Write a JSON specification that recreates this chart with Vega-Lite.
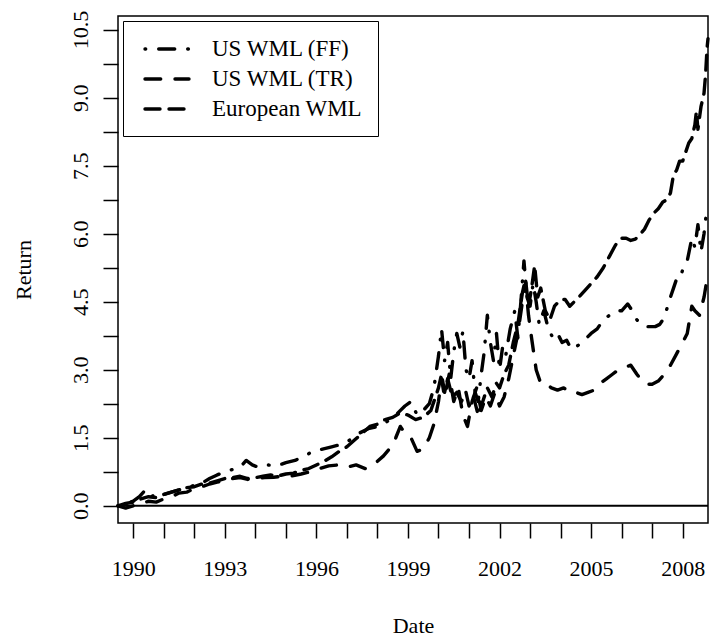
{
  "$schema": "https://vega.github.io/schema/vega-lite/v6.json",
  "width": 590,
  "height": 507,
  "autosize": "none",
  "padding": {"left": 118, "top": 16, "right": 2, "bottom": 120},
  "config": {
    "view": {"stroke": "black", "strokeWidth": 1.5},
    "font": "Liberation Serif",
    "axis": {"labelOverlap": false, "labelFlush": false, "grid": false, "domain": false}
  },
  "layer": [
    {
      "data": {"values": [{"v": 0}]},
      "mark": {"type": "rule", "color": "black", "strokeWidth": 2},
      "encoding": {
        "y": {
          "field": "v", "type": "quantitative",
          "scale": {"domain": [-0.38, 10.8], "nice": false, "zero": false},
          "axis": {
            "title": "Return",
            "values": [0,0.75,1.5,2.25,3,3.75,4.5,5.25,6,6.75,7.5,8.25,9,9.75,10.5],
            "labelExpr": "datum.value % 1.5 == 0 ? format(datum.value, '.1f') : ''",
            "labelAngle": -90, "labelOverlap": false,
            "tickSize": 15, "tickWidth": 1.5, "tickColor": "black",
            "labelFont": "Liberation Serif", "labelFontSize": 22, "labelColor": "black", "labelPadding": 11,
            "titleFont": "Liberation Serif", "titleFontSize": 22, "titleFontWeight": "normal", "titleColor": "black", "titlePadding": 34
          }
        }
      }
    },
    {
      "data": {"values": [
        {"s":"US WML (FF)","d":1989.5,"v":0.0},{"s":"US WML (FF)","d":1989.75,"v":0.05},{"s":"US WML (FF)","d":1990.0,"v":0.1},{"s":"US WML (FF)","d":1990.2,"v":0.2},{"s":"US WML (FF)","d":1990.4,"v":0.35},{"s":"US WML (FF)","d":1990.6,"v":0.2},{"s":"US WML (FF)","d":1990.8,"v":0.3},{"s":"US WML (FF)","d":1991.0,"v":0.25},{"s":"US WML (FF)","d":1991.25,"v":0.3},{"s":"US WML (FF)","d":1991.5,"v":0.35},{"s":"US WML (FF)","d":1991.75,"v":0.4},{"s":"US WML (FF)","d":1992.0,"v":0.45},{"s":"US WML (FF)","d":1992.25,"v":0.5},{"s":"US WML (FF)","d":1992.5,"v":0.6},{"s":"US WML (FF)","d":1992.75,"v":0.68},{"s":"US WML (FF)","d":1993.0,"v":0.75},{"s":"US WML (FF)","d":1993.25,"v":0.8},{"s":"US WML (FF)","d":1993.5,"v":0.85},{"s":"US WML (FF)","d":1993.7,"v":1.0},{"s":"US WML (FF)","d":1993.9,"v":0.9},{"s":"US WML (FF)","d":1994.1,"v":0.85},{"s":"US WML (FF)","d":1994.4,"v":0.9},{"s":"US WML (FF)","d":1994.7,"v":0.88},{"s":"US WML (FF)","d":1995.0,"v":0.95},{"s":"US WML (FF)","d":1995.3,"v":1.0},{"s":"US WML (FF)","d":1995.6,"v":1.1},{"s":"US WML (FF)","d":1995.9,"v":1.2},{"s":"US WML (FF)","d":1996.2,"v":1.25},{"s":"US WML (FF)","d":1996.5,"v":1.3},{"s":"US WML (FF)","d":1996.8,"v":1.35},{"s":"US WML (FF)","d":1997.1,"v":1.45},{"s":"US WML (FF)","d":1997.4,"v":1.6},{"s":"US WML (FF)","d":1997.7,"v":1.7},{"s":"US WML (FF)","d":1998.0,"v":1.75},{"s":"US WML (FF)","d":1998.3,"v":1.85},{"s":"US WML (FF)","d":1998.6,"v":2.0},{"s":"US WML (FF)","d":1998.9,"v":2.2},{"s":"US WML (FF)","d":1999.1,"v":2.3},{"s":"US WML (FF)","d":1999.3,"v":2.0},{"s":"US WML (FF)","d":1999.5,"v":2.1},{"s":"US WML (FF)","d":1999.7,"v":2.25},{"s":"US WML (FF)","d":1999.85,"v":2.6},{"s":"US WML (FF)","d":2000.0,"v":3.3},{"s":"US WML (FF)","d":2000.1,"v":3.9},{"s":"US WML (FF)","d":2000.2,"v":3.2},{"s":"US WML (FF)","d":2000.3,"v":3.6},{"s":"US WML (FF)","d":2000.4,"v":2.8},{"s":"US WML (FF)","d":2000.5,"v":3.4},{"s":"US WML (FF)","d":2000.6,"v":3.8},{"s":"US WML (FF)","d":2000.7,"v":3.5},{"s":"US WML (FF)","d":2000.8,"v":3.85},{"s":"US WML (FF)","d":2000.9,"v":3.0},{"s":"US WML (FF)","d":2001.0,"v":2.8},{"s":"US WML (FF)","d":2001.1,"v":3.2},{"s":"US WML (FF)","d":2001.2,"v":2.5},{"s":"US WML (FF)","d":2001.3,"v":2.3},{"s":"US WML (FF)","d":2001.4,"v":2.9},{"s":"US WML (FF)","d":2001.5,"v":3.4},{"s":"US WML (FF)","d":2001.6,"v":4.2},{"s":"US WML (FF)","d":2001.7,"v":3.6},{"s":"US WML (FF)","d":2001.8,"v":3.2},{"s":"US WML (FF)","d":2001.9,"v":3.8},{"s":"US WML (FF)","d":2002.0,"v":3.0},{"s":"US WML (FF)","d":2002.1,"v":3.5},{"s":"US WML (FF)","d":2002.2,"v":3.3},{"s":"US WML (FF)","d":2002.35,"v":3.9},{"s":"US WML (FF)","d":2002.5,"v":4.3},{"s":"US WML (FF)","d":2002.6,"v":3.7},{"s":"US WML (FF)","d":2002.7,"v":4.5},{"s":"US WML (FF)","d":2002.8,"v":5.4},{"s":"US WML (FF)","d":2002.9,"v":4.6},{"s":"US WML (FF)","d":2003.0,"v":4.4},{"s":"US WML (FF)","d":2003.1,"v":4.9},{"s":"US WML (FF)","d":2003.2,"v":4.5},{"s":"US WML (FF)","d":2003.3,"v":4.0},{"s":"US WML (FF)","d":2003.45,"v":4.3},{"s":"US WML (FF)","d":2003.6,"v":3.9},{"s":"US WML (FF)","d":2003.75,"v":3.7},{"s":"US WML (FF)","d":2003.9,"v":3.8},{"s":"US WML (FF)","d":2004.05,"v":3.6},{"s":"US WML (FF)","d":2004.2,"v":3.65},{"s":"US WML (FF)","d":2004.35,"v":3.45},{"s":"US WML (FF)","d":2004.5,"v":3.5},{"s":"US WML (FF)","d":2004.7,"v":3.6},{"s":"US WML (FF)","d":2004.85,"v":3.7},{"s":"US WML (FF)","d":2005.0,"v":3.8},{"s":"US WML (FF)","d":2005.2,"v":3.9},{"s":"US WML (FF)","d":2005.4,"v":4.1},{"s":"US WML (FF)","d":2005.6,"v":4.2},{"s":"US WML (FF)","d":2005.8,"v":4.3},{"s":"US WML (FF)","d":2006.0,"v":4.3},{"s":"US WML (FF)","d":2006.2,"v":4.45},{"s":"US WML (FF)","d":2006.35,"v":4.3},{"s":"US WML (FF)","d":2006.5,"v":4.1},{"s":"US WML (FF)","d":2006.65,"v":4.0},{"s":"US WML (FF)","d":2006.8,"v":3.95},{"s":"US WML (FF)","d":2006.95,"v":3.95},{"s":"US WML (FF)","d":2007.1,"v":3.95},{"s":"US WML (FF)","d":2007.25,"v":4.0},{"s":"US WML (FF)","d":2007.4,"v":4.15},{"s":"US WML (FF)","d":2007.55,"v":4.5},{"s":"US WML (FF)","d":2007.7,"v":4.8},{"s":"US WML (FF)","d":2007.8,"v":5.0},{"s":"US WML (FF)","d":2007.9,"v":5.0},{"s":"US WML (FF)","d":2008.0,"v":5.2},{"s":"US WML (FF)","d":2008.15,"v":5.4},{"s":"US WML (FF)","d":2008.3,"v":5.9},{"s":"US WML (FF)","d":2008.4,"v":5.7},{"s":"US WML (FF)","d":2008.5,"v":6.2},{"s":"US WML (FF)","d":2008.6,"v":5.6},{"s":"US WML (FF)","d":2008.7,"v":6.0},{"s":"US WML (FF)","d":2008.8,"v":6.6},
        {"s":"US WML (TR)","d":1989.5,"v":0.0},{"s":"US WML (TR)","d":1989.75,"v":-0.05},{"s":"US WML (TR)","d":1990.0,"v":0.0},{"s":"US WML (TR)","d":1990.25,"v":0.05},{"s":"US WML (TR)","d":1990.5,"v":0.1},{"s":"US WML (TR)","d":1990.75,"v":0.08},{"s":"US WML (TR)","d":1991.0,"v":0.15},{"s":"US WML (TR)","d":1991.25,"v":0.2},{"s":"US WML (TR)","d":1991.5,"v":0.28},{"s":"US WML (TR)","d":1991.75,"v":0.3},{"s":"US WML (TR)","d":1992.0,"v":0.38},{"s":"US WML (TR)","d":1992.25,"v":0.42},{"s":"US WML (TR)","d":1992.5,"v":0.48},{"s":"US WML (TR)","d":1992.75,"v":0.52},{"s":"US WML (TR)","d":1993.0,"v":0.55},{"s":"US WML (TR)","d":1993.25,"v":0.6},{"s":"US WML (TR)","d":1993.5,"v":0.62},{"s":"US WML (TR)","d":1993.75,"v":0.58},{"s":"US WML (TR)","d":1994.0,"v":0.6},{"s":"US WML (TR)","d":1994.3,"v":0.62},{"s":"US WML (TR)","d":1994.6,"v":0.63},{"s":"US WML (TR)","d":1994.9,"v":0.65},{"s":"US WML (TR)","d":1995.2,"v":0.66},{"s":"US WML (TR)","d":1995.5,"v":0.7},{"s":"US WML (TR)","d":1995.8,"v":0.75},{"s":"US WML (TR)","d":1996.1,"v":0.82},{"s":"US WML (TR)","d":1996.4,"v":0.88},{"s":"US WML (TR)","d":1996.7,"v":0.9},{"s":"US WML (TR)","d":1997.0,"v":0.85},{"s":"US WML (TR)","d":1997.3,"v":0.9},{"s":"US WML (TR)","d":1997.6,"v":0.82},{"s":"US WML (TR)","d":1997.9,"v":0.92},{"s":"US WML (TR)","d":1998.2,"v":1.1},{"s":"US WML (TR)","d":1998.45,"v":1.3},{"s":"US WML (TR)","d":1998.6,"v":1.5},{"s":"US WML (TR)","d":1998.75,"v":1.75},{"s":"US WML (TR)","d":1998.9,"v":1.6},{"s":"US WML (TR)","d":1999.1,"v":1.5},{"s":"US WML (TR)","d":1999.3,"v":1.2},{"s":"US WML (TR)","d":1999.5,"v":1.25},{"s":"US WML (TR)","d":1999.7,"v":1.5},{"s":"US WML (TR)","d":1999.85,"v":1.8},{"s":"US WML (TR)","d":2000.0,"v":2.3},{"s":"US WML (TR)","d":2000.1,"v":2.8},{"s":"US WML (TR)","d":2000.2,"v":2.4},{"s":"US WML (TR)","d":2000.35,"v":2.9},{"s":"US WML (TR)","d":2000.5,"v":2.3},{"s":"US WML (TR)","d":2000.65,"v":2.6},{"s":"US WML (TR)","d":2000.8,"v":2.0},{"s":"US WML (TR)","d":2000.95,"v":1.75},{"s":"US WML (TR)","d":2001.1,"v":2.3},{"s":"US WML (TR)","d":2001.25,"v":2.6},{"s":"US WML (TR)","d":2001.4,"v":2.1},{"s":"US WML (TR)","d":2001.55,"v":2.4},{"s":"US WML (TR)","d":2001.7,"v":2.2},{"s":"US WML (TR)","d":2001.85,"v":2.5},{"s":"US WML (TR)","d":2002.0,"v":2.2},{"s":"US WML (TR)","d":2002.15,"v":2.4},{"s":"US WML (TR)","d":2002.3,"v":2.8},{"s":"US WML (TR)","d":2002.45,"v":3.3},{"s":"US WML (TR)","d":2002.6,"v":3.8},{"s":"US WML (TR)","d":2002.75,"v":4.5},{"s":"US WML (TR)","d":2002.85,"v":4.9},{"s":"US WML (TR)","d":2002.95,"v":4.2},{"s":"US WML (TR)","d":2003.05,"v":3.7},{"s":"US WML (TR)","d":2003.2,"v":3.0},{"s":"US WML (TR)","d":2003.35,"v":2.7},{"s":"US WML (TR)","d":2003.5,"v":2.7},{"s":"US WML (TR)","d":2003.7,"v":2.6},{"s":"US WML (TR)","d":2003.9,"v":2.55},{"s":"US WML (TR)","d":2004.1,"v":2.6},{"s":"US WML (TR)","d":2004.3,"v":2.5},{"s":"US WML (TR)","d":2004.5,"v":2.5},{"s":"US WML (TR)","d":2004.7,"v":2.45},{"s":"US WML (TR)","d":2004.9,"v":2.5},{"s":"US WML (TR)","d":2005.1,"v":2.55},{"s":"US WML (TR)","d":2005.3,"v":2.7},{"s":"US WML (TR)","d":2005.5,"v":2.8},{"s":"US WML (TR)","d":2005.7,"v":2.9},{"s":"US WML (TR)","d":2005.9,"v":3.0},{"s":"US WML (TR)","d":2006.1,"v":3.05},{"s":"US WML (TR)","d":2006.3,"v":3.1},{"s":"US WML (TR)","d":2006.5,"v":2.9},{"s":"US WML (TR)","d":2006.7,"v":2.72},{"s":"US WML (TR)","d":2006.85,"v":2.68},{"s":"US WML (TR)","d":2007.0,"v":2.68},{"s":"US WML (TR)","d":2007.2,"v":2.75},{"s":"US WML (TR)","d":2007.4,"v":2.9},{"s":"US WML (TR)","d":2007.6,"v":3.1},{"s":"US WML (TR)","d":2007.8,"v":3.35},{"s":"US WML (TR)","d":2008.0,"v":3.6},{"s":"US WML (TR)","d":2008.15,"v":3.8},{"s":"US WML (TR)","d":2008.3,"v":4.4},{"s":"US WML (TR)","d":2008.4,"v":4.3},{"s":"US WML (TR)","d":2008.55,"v":4.2},{"s":"US WML (TR)","d":2008.7,"v":4.6},{"s":"US WML (TR)","d":2008.8,"v":5.0},
        {"s":"European WML","d":1989.5,"v":0.0},{"s":"European WML","d":1989.75,"v":0.05},{"s":"European WML","d":1990.0,"v":0.08},{"s":"European WML","d":1990.25,"v":0.15},{"s":"European WML","d":1990.5,"v":0.2},{"s":"European WML","d":1990.75,"v":0.18},{"s":"European WML","d":1991.0,"v":0.25},{"s":"European WML","d":1991.25,"v":0.3},{"s":"European WML","d":1991.5,"v":0.35},{"s":"European WML","d":1991.75,"v":0.4},{"s":"European WML","d":1992.0,"v":0.42},{"s":"European WML","d":1992.25,"v":0.48},{"s":"European WML","d":1992.5,"v":0.5},{"s":"European WML","d":1992.75,"v":0.55},{"s":"European WML","d":1993.0,"v":0.6},{"s":"European WML","d":1993.25,"v":0.62},{"s":"European WML","d":1993.5,"v":0.65},{"s":"European WML","d":1993.75,"v":0.6},{"s":"European WML","d":1994.0,"v":0.62},{"s":"European WML","d":1994.25,"v":0.65},{"s":"European WML","d":1994.5,"v":0.68},{"s":"European WML","d":1994.75,"v":0.66},{"s":"European WML","d":1995.0,"v":0.7},{"s":"European WML","d":1995.25,"v":0.72},{"s":"European WML","d":1995.5,"v":0.78},{"s":"European WML","d":1995.75,"v":0.82},{"s":"European WML","d":1996.0,"v":0.9},{"s":"European WML","d":1996.25,"v":0.98},{"s":"European WML","d":1996.5,"v":1.08},{"s":"European WML","d":1996.75,"v":1.2},{"s":"European WML","d":1997.0,"v":1.3},{"s":"European WML","d":1997.25,"v":1.45},{"s":"European WML","d":1997.5,"v":1.6},{"s":"European WML","d":1997.75,"v":1.75},{"s":"European WML","d":1998.0,"v":1.8},{"s":"European WML","d":1998.25,"v":1.9},{"s":"European WML","d":1998.5,"v":1.95},{"s":"European WML","d":1998.75,"v":2.05},{"s":"European WML","d":1999.0,"v":2.0},{"s":"European WML","d":1999.25,"v":1.9},{"s":"European WML","d":1999.5,"v":1.95},{"s":"European WML","d":1999.75,"v":2.1},{"s":"European WML","d":1999.9,"v":2.4},{"s":"European WML","d":2000.0,"v":2.6},{"s":"European WML","d":2000.1,"v":2.9},{"s":"European WML","d":2000.2,"v":2.5},{"s":"European WML","d":2000.3,"v":2.8},{"s":"European WML","d":2000.45,"v":2.4},{"s":"European WML","d":2000.6,"v":2.5},{"s":"European WML","d":2000.75,"v":2.3},{"s":"European WML","d":2000.9,"v":2.5},{"s":"European WML","d":2001.0,"v":2.2},{"s":"European WML","d":2001.15,"v":2.4},{"s":"European WML","d":2001.3,"v":2.0},{"s":"European WML","d":2001.45,"v":2.3},{"s":"European WML","d":2001.6,"v":2.6},{"s":"European WML","d":2001.75,"v":2.4},{"s":"European WML","d":2001.9,"v":2.7},{"s":"European WML","d":2002.0,"v":2.6},{"s":"European WML","d":2002.15,"v":2.9},{"s":"European WML","d":2002.3,"v":3.1},{"s":"European WML","d":2002.45,"v":3.6},{"s":"European WML","d":2002.6,"v":4.0},{"s":"European WML","d":2002.75,"v":4.7},{"s":"European WML","d":2002.85,"v":5.0},{"s":"European WML","d":2002.95,"v":4.4},{"s":"European WML","d":2003.05,"v":4.8},{"s":"European WML","d":2003.15,"v":5.3},{"s":"European WML","d":2003.25,"v":4.6},{"s":"European WML","d":2003.35,"v":4.8},{"s":"European WML","d":2003.5,"v":4.3},{"s":"European WML","d":2003.65,"v":4.1},{"s":"European WML","d":2003.8,"v":4.4},{"s":"European WML","d":2004.0,"v":4.55},{"s":"European WML","d":2004.15,"v":4.55},{"s":"European WML","d":2004.3,"v":4.4},{"s":"European WML","d":2004.45,"v":4.5},{"s":"European WML","d":2004.6,"v":4.6},{"s":"European WML","d":2004.8,"v":4.75},{"s":"European WML","d":2005.0,"v":4.9},{"s":"European WML","d":2005.2,"v":5.05},{"s":"European WML","d":2005.4,"v":5.25},{"s":"European WML","d":2005.6,"v":5.5},{"s":"European WML","d":2005.8,"v":5.75},{"s":"European WML","d":2006.0,"v":5.9},{"s":"European WML","d":2006.15,"v":5.9},{"s":"European WML","d":2006.3,"v":5.85},{"s":"European WML","d":2006.45,"v":5.88},{"s":"European WML","d":2006.6,"v":5.98},{"s":"European WML","d":2006.75,"v":6.1},{"s":"European WML","d":2006.9,"v":6.3},{"s":"European WML","d":2007.05,"v":6.45},{"s":"European WML","d":2007.2,"v":6.55},{"s":"European WML","d":2007.35,"v":6.7},{"s":"European WML","d":2007.5,"v":6.75},{"s":"European WML","d":2007.6,"v":6.9},{"s":"European WML","d":2007.7,"v":7.3},{"s":"European WML","d":2007.8,"v":7.4},{"s":"European WML","d":2007.9,"v":7.6},{"s":"European WML","d":2008.0,"v":7.6},{"s":"European WML","d":2008.1,"v":7.8},{"s":"European WML","d":2008.2,"v":8.0},{"s":"European WML","d":2008.3,"v":8.1},{"s":"European WML","d":2008.4,"v":8.4},{"s":"European WML","d":2008.45,"v":8.7},{"s":"European WML","d":2008.5,"v":8.3},{"s":"European WML","d":2008.6,"v":8.8},{"s":"European WML","d":2008.7,"v":9.1},{"s":"European WML","d":2008.75,"v":9.5},{"s":"European WML","d":2008.8,"v":10.1},{"s":"European WML","d":2008.83,"v":10.3}
      ]},
      "mark": {"type": "line", "color": "black", "strokeCap": "round", "strokeJoin": "round"},
      "encoding": {
        "x": {
          "field": "d", "type": "quantitative",
          "scale": {"domain": [1989.5, 2008.83], "nice": false, "zero": false},
          "axis": {
            "title": "Date",
            "values": [1990,1991,1992,1993,1994,1995,1996,1997,1998,1999,2000,2001,2002,2003,2004,2005,2006,2007,2008],
            "format": "d",
            "labelExpr": "(datum.value - 1990) % 3 == 0 ? datum.label : ''",
            "labelOverlap": false,
            "tickSize": 15, "tickWidth": 1.5, "tickColor": "black",
            "labelFont": "Liberation Serif", "labelFontSize": 22, "labelColor": "black", "labelPadding": 20,
            "titleFont": "Liberation Serif", "titleFontSize": 22, "titleFontWeight": "normal", "titleColor": "black", "titlePadding": 36
          }
        },
        "y": {
          "field": "v", "type": "quantitative",
          "scale": {"domain": [-0.38, 10.8], "nice": false, "zero": false},
          "axis": {
            "title": "Return",
            "values": [0,0.75,1.5,2.25,3,3.75,4.5,5.25,6,6.75,7.5,8.25,9,9.75,10.5],
            "labelExpr": "datum.value % 1.5 == 0 ? format(datum.value, '.1f') : ''",
            "labelAngle": -90, "labelOverlap": false,
            "tickSize": 15, "tickWidth": 1.5, "tickColor": "black",
            "labelFont": "Liberation Serif", "labelFontSize": 22, "labelColor": "black", "labelPadding": 11,
            "titleFont": "Liberation Serif", "titleFontSize": 22, "titleFontWeight": "normal", "titleColor": "black", "titlePadding": 34
          }
        },
        "strokeDash": {
          "field": "s", "type": "nominal",
          "scale": {"domain": ["US WML (FF)", "US WML (TR)", "European WML"], "range": [[0.7, 13, 16, 13], [15.7, 14.3], [15, 9]]},
          "legend": {
            "orient": "top-left", "offset": 5, "title": null,
            "strokeColor": "black", "padding": 15,
            "symbolType": "M-2,0H2", "symbolSize": 484, "symbolStrokeColor": "black", "symbolOffset": 16,
            "labelFont": "Liberation Serif", "labelFontSize": 23, "labelColor": "black", "labelOffset": 32, "labelLimit": 400,
            "rowPadding": 5,
            "encode": {"symbols": {"update": {
              "strokeCap": {"value": "round"},
              "fill": {"value": "transparent"}
            }}}
          }
        },
        "strokeWidth": {
          "field": "s", "type": "nominal",
          "scale": {"domain": ["US WML (FF)", "US WML (TR)", "European WML"], "range": [3.4, 3.4, 6.2]}
        }
      }
    }
  ]
}
